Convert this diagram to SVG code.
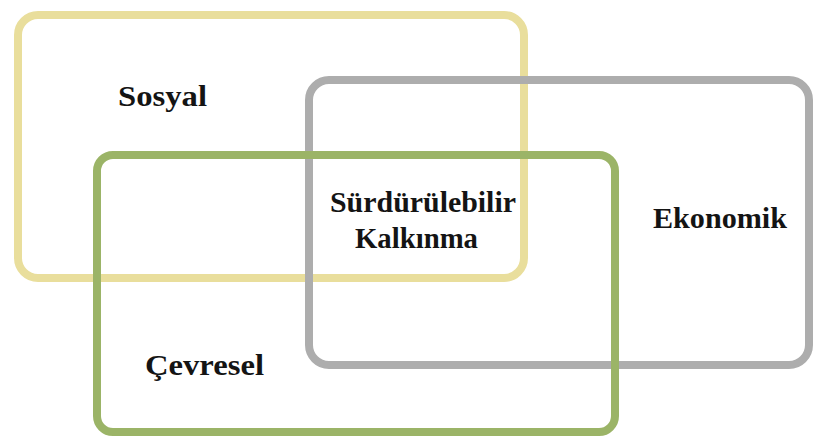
<svg xmlns="http://www.w3.org/2000/svg" width="814" height="437" viewBox="0 0 814 437">
  <style>
    .box { fill: none; stroke-width: 8; }
    .lbl { font-family: "Liberation Serif", "Times New Roman", serif; font-weight: bold; font-size: 30px; fill: #141414; }
  </style>
  <rect width="814" height="437" fill="#ffffff"/>
  <!-- Sosyal (social) -->
  <g id="sosyal">
    <rect class="box" x="18" y="15" width="506" height="263" rx="20" stroke="#E9DE9C"/>
    <text class="lbl" x="118" y="106" textLength="89" lengthAdjust="spacingAndGlyphs">Sosyal</text>
  </g>
  <!-- Ekonomik (economic) -->
  <g id="ekonomik">
    <rect class="box" x="309" y="80" width="500" height="285" rx="20" stroke="#ADADAD"/>
    <text class="lbl" x="653" y="228" textLength="134" lengthAdjust="spacingAndGlyphs">Ekonomik</text>
  </g>
  <!-- Çevresel (environmental) -->
  <g id="cevresel">
    <rect class="box" x="97" y="155" width="518" height="277" rx="16" stroke="#9BB467" stroke-width="9"/>
    <text class="lbl" x="145" y="375" textLength="119" lengthAdjust="spacingAndGlyphs">Çevresel</text>
  </g>
  <!-- Overlap label -->
  <g id="surdurulebilir-kalkinma">
    <text class="lbl" x="330" y="212" textLength="186" lengthAdjust="spacingAndGlyphs">Sürdürülebilir</text>
    <text class="lbl" x="355" y="248" textLength="123" lengthAdjust="spacingAndGlyphs">Kalkınma</text>
  </g>
  <g id="connectors"/>
</svg>
